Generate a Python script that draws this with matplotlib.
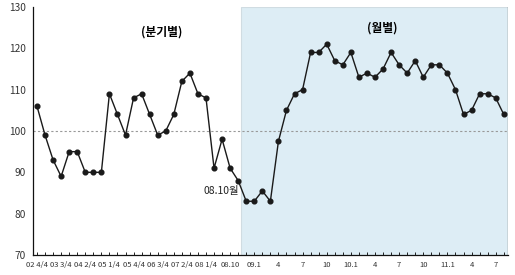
import matplotlib as mpl
mpl.use('Agg')
import matplotlib.pyplot as plt

plt.rcParams['font.family'] = ['Noto Sans CJK KR', 'DejaVu Sans']

# 분기별 (02 4/4 ~ 08 3/4) + 월별 (08.10 ~ 11.8)
quarter_vals = [106, 99, 93, 89, 95, 95, 90, 90, 90, 109, 104, 99,
                108, 109, 104, 99, 100, 104, 112, 114, 109, 108, 91, 98]
month_vals = [91, 88, 83, 83, 85.5, 83, 97.5, 105, 109, 110, 119, 119,
              121, 117, 116, 119, 113, 114, 113, 115, 119, 116, 114, 117,
              113, 116, 116, 114, 110, 104, 105, 109, 109, 108, 104]
values = quarter_vals + month_vals

tick_labels = ['02 4/4', '03 3/4', '04 2/4', '05 1/4', '05 4/4', '06 3/4',
               '07 2/4', '08 1/4', '08.10', '09.1', '4', '7', '10', '10.1',
               '4', '7', '10', '11.1', '4', '7']

x = list(range(len(values)))

fig = plt.figure(figsize=(5.15, 2.75), dpi=100)
ax = fig.add_axes([0.064, 0.0727, 0.922, 0.902])

# 월별 구간 음영
ax.axvspan(len(quarter_vals) + 1.3, len(values) - 0.5, facecolor='#ddedf5',
           edgecolor='#d0dce2', linewidth=0.8, zorder=0)
ax.axvline(len(values) - 0.5, color='#777777', lw=1.0, zorder=1)

ax.axhline(100, color='#999999', lw=0.8, linestyle=(0, (2, 2)), zorder=1)
ax.plot(x, values, color='#1a1a1a', lw=1.0, marker='o', markersize=3.4, zorder=3)

ax.set_xlim(-0.5, len(values) - 0.5)
ax.set_ylim(70, 130)
ax.set_yticks(range(70, 131, 10))
ax.set_xticks(range(0, len(values), 3))
ax.set_xticklabels(tick_labels, fontsize=5.5, color='#333333')
ax.set_xticks(x, minor=True)
ax.tick_params(axis='x', which='both', direction='in', length=2.5, width=0.6, pad=4)
ax.tick_params(axis='y', length=0, labelsize=7.3, labelcolor='#333333', pad=5)

for s in ['top', 'right']:
    ax.spines[s].set_visible(False)
for s in ['left', 'bottom']:
    ax.spines[s].set_color('#111111')
    ax.spines[s].set_linewidth(0.9)

ax.text(15.5, 124, '(분기별)', ha='center', va='center', fontsize=8.5, fontweight='bold')
ax.text(42.9, 124.9, '(월별)', ha='center', va='center', fontsize=8.5, fontweight='bold')
ax.text(25.1, 85.6, '08.10월', ha='right', va='center', fontsize=7.5, color='#222222')

plt.savefig('out.png', dpi=100)
